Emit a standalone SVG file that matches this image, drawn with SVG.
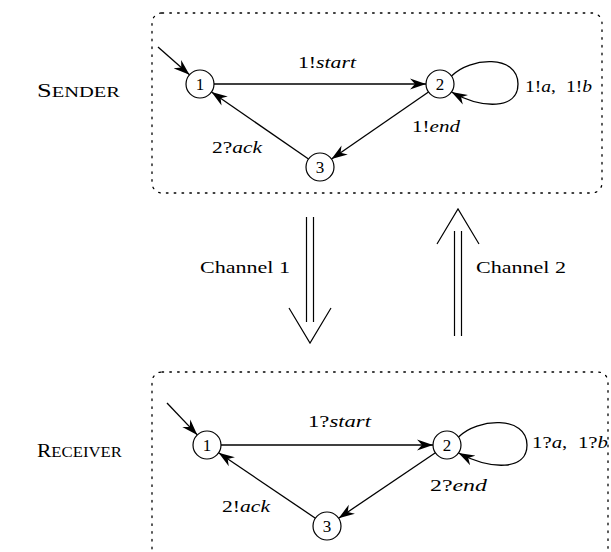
<svg xmlns="http://www.w3.org/2000/svg" width="611" height="552" viewBox="0 0 611 552">
<style>
text{font-family:"Liberation Serif","Times New Roman",serif;font-size:17.5px;fill:#000}
.i{font-style:italic}
.n{font-size:17px;text-anchor:middle}
.box{fill:none;stroke:#000;stroke-width:1.3;stroke-dasharray:1.6 6.2;stroke-linecap:round}
.st{fill:#fff;stroke:#000;stroke-width:1.2}
.e{fill:none;stroke:#000;stroke-width:1.3}
.ch{fill:none;stroke:#000;stroke-width:1.2}
</style>
<defs>
<marker id="ah" markerUnits="userSpaceOnUse" markerWidth="18" markerHeight="12" refX="16" refY="6" orient="auto">
<path d="M0,0.5 L16,6 L0,11.5 L5,6 Z" fill="#000"/>
</marker>
</defs>
<rect class="box" x="152" y="13" width="450" height="180" rx="10"/>
<rect class="box" x="152" y="372" width="456" height="190" rx="10"/>
<text x="37" y="97" textLength="83" lengthAdjust="spacingAndGlyphs"><tspan font-size="18">S</tspan><tspan font-size="14">ENDER</tspan></text>
<text x="37" y="457" textLength="85" lengthAdjust="spacingAndGlyphs"><tspan font-size="18">R</tspan><tspan font-size="14">ECEIVER</tspan></text>
<g id="connectors">
<line class="e" x1="158" y1="47" x2="189.5" y2="74.8" marker-end="url(#ah)"/>
<line class="e" x1="214" y1="84" x2="426" y2="84" marker-end="url(#ah)"/>
<line class="e" x1="428.5" y1="92" x2="331.5" y2="159" marker-end="url(#ah)"/>
<line class="e" x1="308.5" y1="159" x2="211.5" y2="92" marker-end="url(#ah)"/>
<path class="e" d="M451.5,76 C470,57 518,54 518,84 C518,110 482,109 451.5,92" marker-end="url(#ah)"/>
<line class="e" x1="167" y1="403" x2="197.3" y2="434.9" marker-end="url(#ah)"/>
<line class="e" x1="221" y1="445" x2="433" y2="445" marker-end="url(#ah)"/>
<line class="e" x1="435.4" y1="452.8" x2="338.6" y2="518.2" marker-end="url(#ah)"/>
<line class="e" x1="315.4" y1="518.2" x2="218.6" y2="452.8" marker-end="url(#ah)"/>
<path class="e" d="M458.5,437 C477,418 527,415 527,445 C527,471 491,470 458.5,453" marker-end="url(#ah)"/>
<line class="ch" x1="306.5" y1="217" x2="306.5" y2="322"/>
<line class="ch" x1="313.5" y1="217" x2="313.5" y2="322"/>
<polyline class="ch" points="289,308 310,343 331,308"/>
<line class="ch" x1="454.5" y1="231" x2="454.5" y2="336"/>
<line class="ch" x1="461.5" y1="231" x2="461.5" y2="336"/>
<polyline class="ch" points="437,244 458,209 479,244"/>
</g>
<g id="s1"><circle class="st" cx="200" cy="84" r="14"/><text class="n" x="200" y="90">1</text></g>
<g id="s2"><circle class="st" cx="440" cy="84" r="14"/><text class="n" x="440" y="90">2</text></g>
<g id="s3"><circle class="st" cx="320" cy="167" r="14"/><text class="n" x="320" y="173">3</text></g>
<g id="r1"><circle class="st" cx="207" cy="445" r="14"/><text class="n" x="207" y="451">1</text></g>
<g id="r2"><circle class="st" cx="447" cy="445" r="14"/><text class="n" x="447" y="451">2</text></g>
<g id="r3"><circle class="st" cx="327" cy="526" r="14"/><text class="n" x="327" y="532">3</text></g>
<g id="labels">
<text x="298" y="68" textLength="58" lengthAdjust="spacingAndGlyphs">1!<tspan class="i">start</tspan></text>
<text x="525" y="92" textLength="67" lengthAdjust="spacingAndGlyphs">1!<tspan class="i">a</tspan>,<tspan dx="9">1!</tspan><tspan class="i">b</tspan></text>
<text x="412" y="132" textLength="48" lengthAdjust="spacingAndGlyphs">1!<tspan class="i">end</tspan></text>
<text x="212" y="153" textLength="50" lengthAdjust="spacingAndGlyphs">2?<tspan class="i">ack</tspan></text>
<text x="308" y="427" textLength="63" lengthAdjust="spacingAndGlyphs">1?<tspan class="i">start</tspan></text>
<text x="532" y="448" textLength="76" lengthAdjust="spacingAndGlyphs">1?<tspan class="i">a</tspan>,<tspan dx="9">1?</tspan><tspan class="i">b</tspan></text>
<text x="430" y="491" textLength="57" lengthAdjust="spacingAndGlyphs">2?<tspan class="i">end</tspan></text>
<text x="222" y="512" textLength="48" lengthAdjust="spacingAndGlyphs">2!<tspan class="i">ack</tspan></text>
<text x="200" y="273" textLength="90" lengthAdjust="spacingAndGlyphs">Channel 1</text>
<text x="476" y="273" textLength="90" lengthAdjust="spacingAndGlyphs">Channel 2</text>
</g>
</svg>
